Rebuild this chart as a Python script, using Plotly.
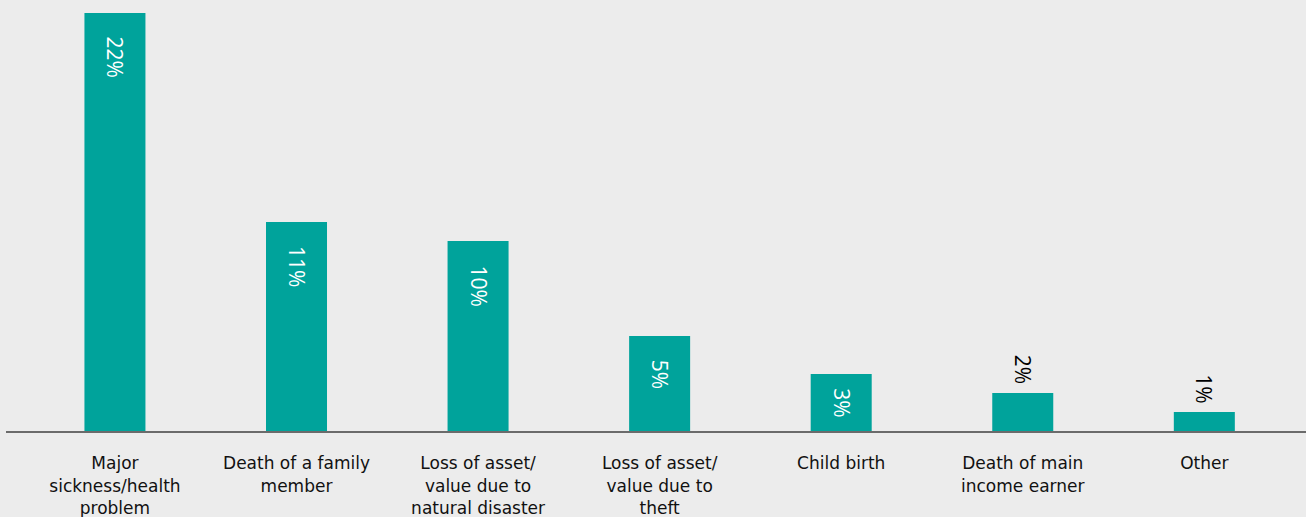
import plotly.graph_objects as go

categories = [
    "Major<br>sickness/health<br>problem",
    "Death of a family<br>member",
    "Loss of asset/<br>value due to<br>natural disaster",
    "Loss of asset/<br>value due to<br>theft",
    "Child birth",
    "Death of main<br>income earner",
    "Other",
]
values = [22, 11, 10, 5, 3, 2, 1]
labels = ["22%", "11%", "10%", "5%", "3%", "2%", "1%"]
label_modes = ["end", "end", "end", "end", "center", "outside", "outside"]

bg = "#ececec"
bar_color = "#00a39b"

fig = go.Figure(
    go.Bar(
        x=categories,
        y=values,
        width=0.336,
        marker=dict(color=bar_color, line=dict(width=0)),
        hoverinfo="skip",
    )
)

annotations = []
for cat, v, lab, mode in zip(categories, values, labels, label_modes):
    a = dict(x=cat, xref="x", yref="y", text=lab, showarrow=False, textangle=90,
             font=dict(family="Open Sans", size=21, color="white"))
    if mode == "end":
        a.update(y=v, yanchor="top", yshift=-22)
    elif mode == "center":
        a.update(y=v / 2, yanchor="middle")
    else:
        a.update(y=v, yanchor="bottom", yshift=7)
        a["font"]["color"] = "black"
    annotations.append(a)

fig.update_layout(
    width=1306,
    height=517,
    margin=dict(l=6, r=0, t=0, b=86),
    paper_bgcolor=bg,
    plot_bgcolor=bg,
    showlegend=False,
    font=dict(family="DejaVu Sans", size=17, color="#111"),
    annotations=annotations,
)
fig.update_xaxes(
    range=[-0.6, 6.56],
    automargin=False,
    showgrid=False,
    showline=True,
    linecolor="#6b6b6b",
    linewidth=2,
    ticks="",
    ticklabelstandoff=16,
    tickfont=dict(family="DejaVu Sans", size=17, color="#111"),
)
fig.update_yaxes(
    range=[0, 22.68],
    automargin=False,
    showgrid=False,
    zeroline=False,
    showticklabels=False,
    showline=False,
)

fig.write_html(
    "out.html",
    config={"displayModeBar": False},
    post_script="document.body.style.margin='0';document.body.style.overflow='hidden';",
)
